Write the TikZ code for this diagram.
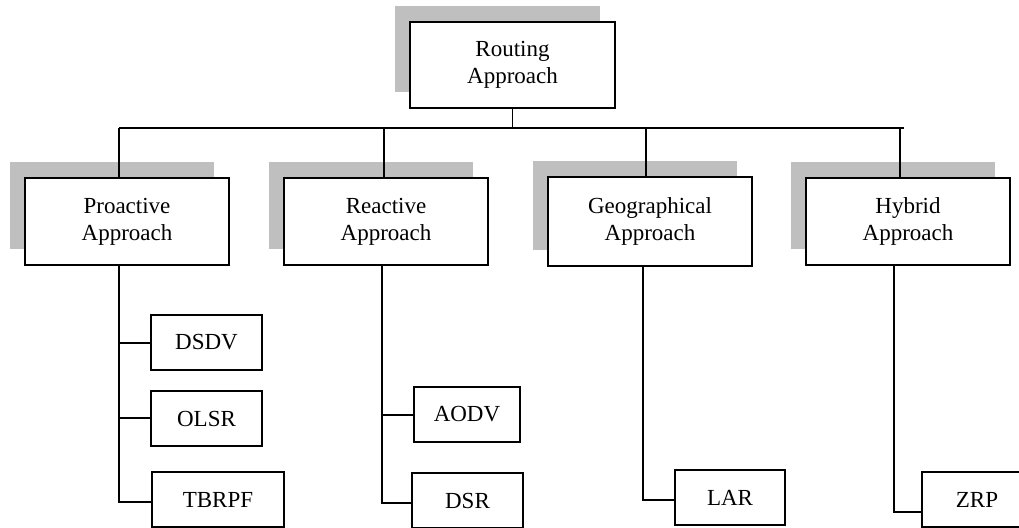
\documentclass[tikz,border=0pt]{standalone}
\usepackage{fontspec}
\setmainfont{Liberation Serif}
\usetikzlibrary{shadows}
\tikzset{
  base/.style={draw=black, line width=1.8pt, fill=white, inner sep=0pt, align=center,
    font=\fontsize{23}{27}\selectfont},
  approach/.style={base, minimum width=204pt, minimum height=87pt,
    drop shadow={shadow xshift=-15pt, shadow yshift=16pt, fill=gray!50, draw=none, opacity=1}},
  leaf/.style={base, minimum height=55pt},
  conn/.style={draw=black, line width=1.8pt}
}
\begin{document}
\begin{tikzpicture}[x=1pt,y=-1pt]
\useasboundingbox (0,0) rectangle (1019,527);
% top
\node[approach, minimum width=205pt, minimum height=86pt] (R) at (512.5,65) {Routing\\Approach};
% approaches
\node[approach] (P) at (127,221.5) {Proactive\\Approach};
\node[approach] (Re) at (386,221.5) {Reactive\\Approach};
\node[approach, minimum height=89pt] (G) at (650,221.5) {Geographical\\Approach};
\node[approach] (H) at (908,221.5) {Hybrid\\Approach};
% leaves
\node[leaf, minimum width=111pt] (DSDV) at (206.5,342.5) {DSDV};
\node[leaf, minimum width=111pt] (OLSR) at (206.5,418.5) {OLSR};
\node[leaf, minimum width=132pt] (TBRPF) at (218,499.5) {TBRPF};
\node[leaf, minimum width=106pt] (AODV) at (467,414.5) {AODV};
\node[leaf, minimum width=111pt] (DSR) at (467.5,500.5) {DSR};
\node[leaf, minimum width=110pt] (LAR) at (730,497.5) {LAR};
\node[leaf, minimum width=110pt] (ZRP) at (977,499.5) {ZRP};
% bus
\coordinate (busL) at (119,128);
\coordinate (busR) at (904,128);
\draw[conn] (busL) -- (busR);
\draw[conn] (R.south) -- (R.south |- busL);
\draw[conn] ([xshift=-8pt]P.north) -- ([xshift=-8pt]P.north |- busL);
\draw[conn] ([xshift=-2pt]Re.north) -- ([xshift=-2pt]Re.north |- busL);
\draw[conn] ([xshift=-4pt]G.north) -- ([xshift=-4pt]G.north |- busL);
\draw[conn] ([xshift=-8pt]H.north) -- ([xshift=-8pt]H.north |- busL);
% proactive trunk
\coordinate (tP) at ([xshift=-8pt]P.south);
\draw[conn] (tP) |- ([yshift=-2.5pt]TBRPF.west);
\draw[conn] ([yshift=-0.5pt]DSDV.west) -- ([yshift=-0.5pt]DSDV.west -| tP);
\draw[conn] ([yshift=0.5pt]OLSR.west) -- ([yshift=0.5pt]OLSR.west -| tP);
% reactive trunk
\coordinate (tR) at ([xshift=-4pt]Re.south);
\draw[conn] (tR) |- ([yshift=-2.5pt]DSR.west);
\draw[conn] ([yshift=-0.5pt]AODV.west) -- ([yshift=-0.5pt]AODV.west -| tR);
% geographical trunk
\coordinate (tG) at ([xshift=-7pt]G.south);
\draw[conn] (tG) |- ([yshift=-2.5pt]LAR.west);
% hybrid trunk
\coordinate (tH) at ([xshift=-14pt]H.south);
\draw[conn] (tH) |- ([yshift=-12.5pt]ZRP.west);
\end{tikzpicture}
\end{document}
